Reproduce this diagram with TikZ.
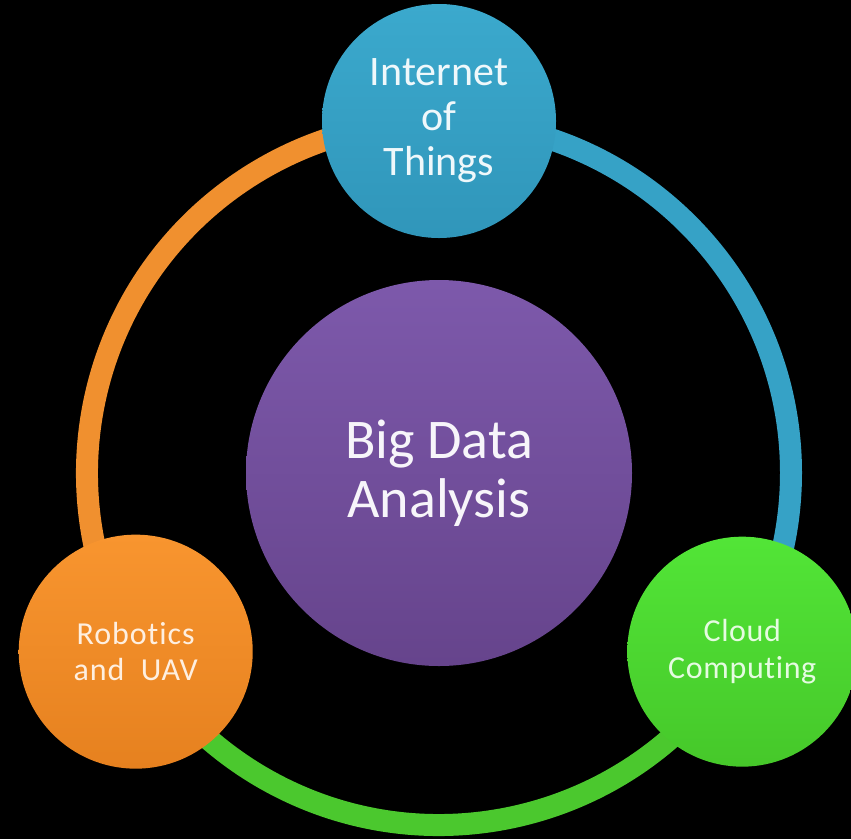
\documentclass[tikz,border=0pt]{standalone}
\usepackage{fontspec}
\setmainfont{Carlito}[Ligatures=NoCommon]
\definecolor{ringorange}{HTML}{F0902F}
\definecolor{ringblue}{HTML}{36A2C6}
\definecolor{ringgreen}{HTML}{4BC82E}
\definecolor{iottop}{HTML}{3BA9CD}
\definecolor{iotbot}{HTML}{3096BA}
\definecolor{robtop}{HTML}{F8952F}
\definecolor{robbot}{HTML}{E6811F}
\definecolor{cldtop}{HTML}{52E537}
\definecolor{cldbot}{HTML}{46C82A}
\definecolor{bigtop}{HTML}{7D59AB}
\definecolor{bigbot}{HTML}{66448C}
\begin{document}
\begin{tikzpicture}[x=1pt,y=-1pt]
\tikzset{
  hub/.style={circle, inner sep=0pt, minimum size=#1, align=center},
  ringarc/.style={line width=22pt, draw=#1},
}
\clip (0,0) rectangle (851,839);
\fill[black] (0,0) rectangle (851,839);
\coordinate (c) at (439,473);
\coordinate (pIoT) at ([shift={(270:352)}]c);
\coordinate (pRob) at ([shift={(149.5:352)}]c);
\coordinate (pCld) at ([shift={(30.5:352)}]c);
% ring
\draw[ringarc=ringorange] (pRob) arc[start angle=149.5, end angle=270, radius=352];
\draw[ringarc=ringblue] (pIoT) arc[start angle=270, end angle=390.5, radius=352];
\draw[ringarc=ringgreen] (pCld) arc[start angle=30.5, end angle=149.5, radius=352];
% circles
\node[hub=386pt, top color=bigtop, bottom color=bigbot, text=white!94!bigtop,
      font=\fontsize{56}{59}\selectfont] (big) at (c) {Big Data\\Analysis};
\node[hub=234pt, top color=iottop, bottom color=iotbot, text=white!92!iottop,
      font=\fontsize{42}{45}\selectfont] (iot) at (pIoT) {Internet\\of\\Things};
\node[hub=234pt, top color=robtop, bottom color=robbot, text=white!85!robtop,
      font=\fontsize{32}{36}\selectfont] (rob) at (pRob) {\addfontfeature{LetterSpace=3}Robotics\\\addfontfeature{LetterSpace=3}and~~UAV};
\node[hub=230pt, top color=cldtop, bottom color=cldbot, text=white!85!cldtop,
      font=\fontsize{32}{37}\selectfont] (cld) at (pCld) {\addfontfeature{LetterSpace=2}Cloud\\\addfontfeature{LetterSpace=2}Computing};
\end{tikzpicture}
\end{document}
